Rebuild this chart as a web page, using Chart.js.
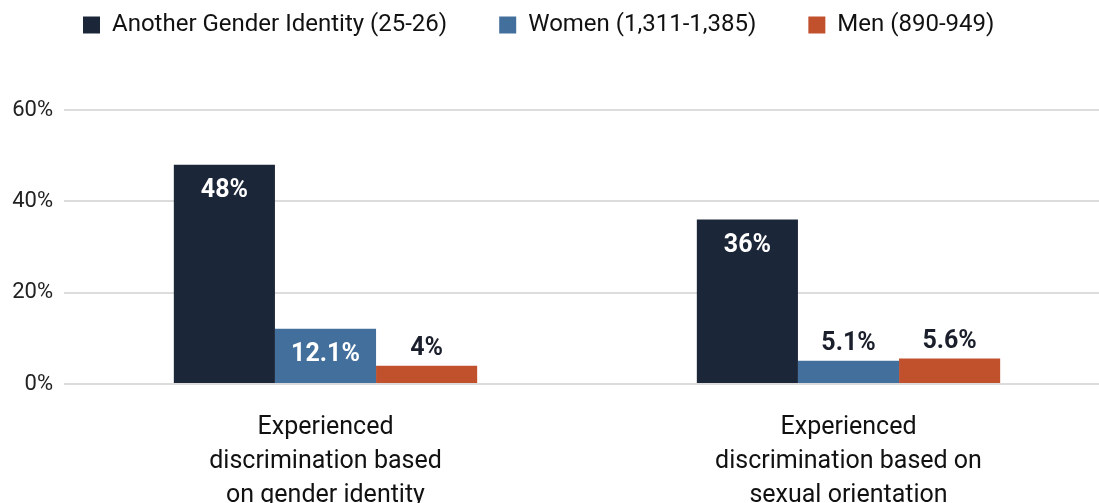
<!DOCTYPE html>
<html>
<head>
<meta charset="utf-8">
<script src="https://cdn.jsdelivr.net/npm/chart.js@4.4.1/dist/chart.umd.min.js"></script>
<style>
  html, body { margin: 0; padding: 0; background: #fff; overflow: hidden; }
  #wrap { width: 1114px; height: 532px; }
</style>
</head>
<body>
<div id="wrap"><canvas id="discChart"></canvas></div>
<script>
const categories = [
  ['Experienced', 'discrimination based', 'on gender identity'],
  ['Experienced', 'discrimination based on', 'sexual orientation']
];
const seriesNames = ['Another Gender Identity (25-26)', 'Women (1,311-1,385)', 'Men (890-949)'];
const anotherValues = [48, 36];
const womenValues = [12.1, 5.1];
const menValues = [4, 5.6];
const yTicks = [0, 20, 40, 60];

const FONT = 'Roboto, "DejaVu Sans", sans-serif';
const colors = ['#1c2639', '#426f9c', '#c1502d'];

// value labels: big bars get white text inside, small ones dark text on top
const valueLabels = {
  id: 'valueLabels',
  afterDatasetsDraw(chart) {
    const ctx = chart.ctx;
    ctx.save();
    ctx.font = 'bold 25px ' + FONT;
    ctx.textAlign = 'center';
    ctx.textBaseline = 'middle';
    chart.data.datasets.forEach((ds, i) => {
      chart.getDatasetMeta(i).data.forEach((bar, j) => {
        const v = ds.data[j];
        const txt = v + '%';
        if (v > 10) {
          ctx.fillStyle = '#ffffff';
          ctx.fillText(txt, bar.x, bar.y + 26);
        } else {
          ctx.fillStyle = '#1a1f2b';
          ctx.fillText(txt, bar.x, bar.y - 17);
        }
      });
    });
    ctx.restore();
  }
};

// legend box takes the space above the plot; items are nudged up/right after layout
const legendGap = {
  id: 'legendGap',
  beforeInit(chart) {
    const origFit = chart.legend.fit;
    chart.legend.fit = function () {
      origFit.bind(chart.legend)();
      this.height = 110;
    };
  },
  afterLayout(chart) {
    const lg = chart.legend;
    lg.top = -39;
    lg.left += 31;
    lg.right += 31;
  }
};

const ctx = document.getElementById('discChart').getContext('2d');
const discChart = new Chart(ctx, {
  type: 'bar',
  data: {
    labels: categories,
    datasets: [
      { label: seriesNames[0], data: anotherValues, backgroundColor: colors[0] },
      { label: seriesNames[1], data: womenValues, backgroundColor: colors[1] },
      { label: seriesNames[2], data: menValues, backgroundColor: colors[2] }
    ]
  },
  options: {
    responsive: true,
    maintainAspectRatio: false,
    animation: false,
    layout: { padding: { top: 0, left: 0, right: 4, bottom: 0 } },
    datasets: {
      bar: { categoryPercentage: 0.58, barPercentage: 1.0 }
    },
    plugins: {
      legend: {
        position: 'top',
        align: 'start',
        labels: {
          boxWidth: 17,
          boxHeight: 17,
          padding: 52,
          color: '#111',
          font: { family: FONT, size: 24 }
        }
      },
      title: { display: false },
      tooltip: { enabled: false }
    },
    scales: {
      x: {
        grid: { display: false },
        border: { display: false },
        ticks: {
          color: '#111',
          padding: 19,
          font: { family: FONT, size: 25, lineHeight: 1.36 }
        }
      },
      y: {
        min: 0,
        max: 60,
        afterFit(scale) { scale.width = 64; },
        afterBuildTicks(scale) { scale.ticks = yTicks.map(v => ({ value: v })); },
        grid: { color: '#dcdcdc', lineWidth: 2, drawTicks: false },
        border: { display: false },
        ticks: {
          color: '#222',
          padding: 11,
          font: { family: FONT, size: 22 },
          callback: v => v + '%'
        }
      }
    }
  },
  plugins: [valueLabels, legendGap]
});
</script>
</body>
</html>
